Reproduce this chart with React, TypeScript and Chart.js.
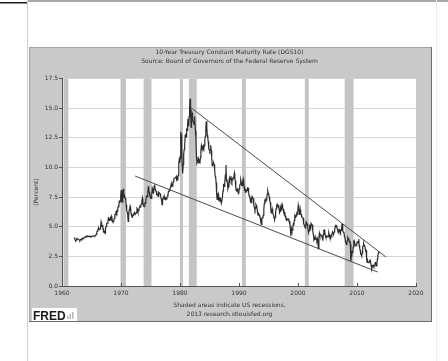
import { useEffect, useRef } from "react";
import { Chart, registerables } from "chart.js";

Chart.register(...registerables);

// ---- data (monthly values) ----
const firstYear = 1962;
const rates1960s = [
  4.08, 4.04, 3.93, 3.84, 3.87, 3.91, 4.01, 3.98, 3.98, 3.93, 3.92, 3.86,
  3.83, 3.92, 3.93, 3.97, 3.93, 3.99, 4.02, 4.0, 4.08, 4.11, 4.12, 4.13,
  4.17, 4.15, 4.22, 4.23, 4.2, 4.17, 4.19, 4.19, 4.2, 4.19, 4.15, 4.18,
  4.19, 4.21, 4.21, 4.2, 4.21, 4.21, 4.2, 4.25, 4.29, 4.35, 4.45, 4.62,
  4.61, 4.83, 4.87, 4.75, 4.78, 4.81, 5.02, 5.4, 5.18, 5.01, 5.16, 4.84,
  4.58, 4.63, 4.54, 4.45, 4.85, 5.02, 5.16, 5.28, 5.3, 5.48, 5.75, 5.7,
  5.53, 5.56, 5.74, 5.64, 5.87, 5.72, 5.5, 5.42, 5.46, 5.58, 5.7, 6.03,
  6.04, 6.19, 6.3, 6.17, 6.32, 6.57, 6.72, 6.69, 7.16, 7.1, 7.14, 7.65,
];
const rates1970s = [
  8.1, 7.24, 7.07, 7.39, 8.2, 7.84, 7.46, 7.53, 7.39, 7.33, 6.84, 6.39,
  6.24, 6.11, 5.45, 5.83, 6.39, 6.52, 6.73, 6.58, 6.14, 5.93, 5.81, 5.93,
  5.95, 6.08, 6.07, 6.19, 6.13, 6.11, 6.11, 6.21, 6.55, 6.48, 6.28, 6.36,
  6.46, 6.64, 6.71, 6.67, 6.85, 6.9, 7.13, 7.4, 7.09, 6.79, 6.73, 6.74,
  6.99, 6.96, 7.21, 7.51, 7.58, 7.54, 7.81, 8.4, 8.04, 7.9, 7.68, 7.43,
  7.5, 7.39, 7.73, 8.23, 8.06, 7.86, 8.06, 8.4, 8.55, 8.14, 8.05, 8.0,
  7.74, 7.79, 7.73, 7.56, 7.9, 7.86, 7.83, 7.77, 7.59, 7.41, 7.29, 6.87,
  7.21, 7.39, 7.46, 7.37, 7.46, 7.28, 7.33, 7.4, 7.34, 7.52, 7.58, 7.69,
  7.96, 8.03, 8.04, 8.15, 8.35, 8.46, 8.64, 8.41, 8.42, 8.64, 8.81, 9.01,
  9.1, 9.1, 9.12, 9.18, 9.25, 8.91, 8.95, 9.03, 9.33, 10.3, 10.65, 10.39,
];
const rates1980s = [
  10.8, 13.0, 12.75, 11.47, 10.18, 9.5, 10.25, 11.1, 11.51, 11.75, 12.68, 12.84,
  12.57, 13.19, 13.12, 13.68, 14.1, 13.47, 14.28, 14.94, 15.8, 15.15, 13.39, 13.72,
  14.59, 14.43, 13.86, 13.87, 13.62, 14.3, 13.95, 13.06, 12.34, 10.91, 10.4, 10.54,
  10.46, 10.72, 10.51, 10.4, 10.38, 10.85, 11.38, 11.85, 11.65, 11.54, 11.69, 11.83,
  11.67, 11.84, 12.32, 12.63, 13.41, 13.9, 13.36, 12.72, 12.52, 12.16, 11.57, 11.5,
  11.38, 11.51, 11.86, 11.43, 10.85, 10.16, 10.31, 10.33, 10.37, 10.24, 9.78, 9.26,
  9.19, 8.7, 7.78, 7.3, 7.71, 7.8, 7.3, 7.17, 7.45, 7.43, 7.25, 7.11,
  7.08, 7.25, 7.25, 8.02, 8.61, 8.4, 8.45, 8.76, 9.42, 10.2, 8.86, 8.99,
  8.67, 8.21, 8.37, 8.72, 9.09, 8.92, 9.06, 9.26, 8.98, 8.8, 8.96, 9.11,
  9.09, 9.17, 9.5, 9.18, 8.86, 8.28, 8.02, 8.11, 8.19, 8.01, 7.87, 7.84,
];
const rates1990s = [
  8.21, 8.47, 8.59, 8.95, 8.76, 8.48, 8.47, 8.75, 9.0, 8.72, 8.39, 8.08,
  8.09, 7.85, 8.11, 8.04, 8.07, 8.28, 8.27, 7.9, 7.65, 7.53, 7.42, 7.09,
  7.03, 7.34, 7.54, 7.48, 7.39, 7.26, 6.84, 6.59, 6.42, 6.59, 6.87, 6.77,
  6.6, 6.26, 5.98, 5.97, 6.04, 5.96, 5.81, 5.68, 5.36, 5.2, 5.72, 5.77,
  5.75, 5.97, 6.48, 6.97, 7.18, 7.1, 7.3, 7.24, 7.46, 7.74, 8.0, 7.81,
  7.78, 7.47, 7.2, 7.06, 6.63, 6.17, 6.28, 6.49, 6.2, 6.04, 5.93, 5.71,
  5.65, 5.81, 6.27, 6.51, 6.74, 6.91, 6.87, 6.64, 6.83, 6.53, 6.2, 6.3,
  6.58, 6.42, 6.69, 6.89, 6.71, 6.49, 6.22, 6.3, 6.21, 6.03, 5.88, 5.81,
  5.54, 5.57, 5.65, 5.64, 5.65, 5.5, 5.46, 5.34, 4.81, 4.2, 4.83, 4.65,
  4.72, 5.0, 5.23, 5.18, 5.54, 5.9, 5.79, 5.94, 5.92, 6.11, 6.03, 6.28,
];
const rates2000s = [
  6.8, 6.52, 6.26, 5.99, 6.44, 6.1, 6.05, 5.83, 5.8, 5.74, 5.72, 5.24,
  5.16, 5.1, 4.89, 5.14, 5.39, 5.28, 5.24, 4.97, 4.73, 4.57, 4.65, 5.09,
  5.04, 4.91, 5.28, 5.21, 5.16, 4.93, 4.65, 4.26, 3.87, 3.94, 4.05, 4.03,
  4.05, 3.9, 3.81, 3.96, 3.57, 3.15, 3.98, 4.45, 4.27, 4.29, 4.3, 4.27,
  4.15, 4.08, 3.83, 4.35, 4.72, 4.73, 4.5, 4.28, 4.13, 4.1, 4.19, 4.23,
  4.22, 4.17, 4.5, 4.34, 4.14, 4.0, 4.18, 4.26, 4.2, 4.46, 4.54, 4.47,
  4.42, 4.57, 4.72, 4.99, 5.11, 5.11, 5.09, 4.88, 4.72, 4.73, 4.6, 4.56,
  4.76, 4.72, 4.56, 4.69, 4.75, 5.25, 5.0, 4.67, 4.52, 4.53, 4.15, 4.1,
  3.74, 3.74, 3.51, 3.68, 3.88, 4.1, 4.01, 3.89, 3.69, 3.81, 3.53, 2.1,
  2.52, 2.87, 2.82, 2.93, 3.29, 3.85, 3.56, 3.59, 3.4, 3.39, 3.4, 3.59,
];
const rates2010s = [
  3.73, 3.69, 3.73, 3.95, 3.42, 3.2, 3.01, 2.7, 2.65, 2.54, 2.76, 3.29,
  3.39, 3.58, 3.41, 3.46, 3.17, 3.0, 3.0, 2.3, 1.98, 2.15, 2.01, 1.98,
  1.97, 1.97, 2.17, 2.05, 1.8, 1.62, 1.45, 1.68, 1.72, 1.75, 1.65, 1.72,
  1.91, 1.98, 1.96, 1.7, 1.93, 2.3, 2.58, 2.8, 2.9,
];

const recessionStarts = [1960.25, 1969.917, 1973.833, 1980.0, 1981.5, 1990.5, 2001.167, 2007.917];
const recessionEnds = [1961.083, 1970.833, 1975.167, 1980.5, 1982.833, 1991.167, 2001.833, 2009.417];

const upperTrendX = [1981.7, 2014.9];
const upperTrendY = [15.1, 2.45];
const lowerTrendX = [1972.4, 2013.5];
const lowerTrendY = [9.27, 1.18];

const xMin = 1960;
const xMax = 2020;
const xStep = 10;
const yMin = 0;
const yMax = 17.5;
const yStep = 2.5;

const titleLines = [
  "10-Year Treasury Constant Maturity Rate (DGS10)",
  "Source: Board of Governors of the Federal Reserve System",
];
const noteLines = ["Shaded areas indicate US recessions.", "2013 research.stlouisfed.org"];
const yAxisLabel = "(Percent)";
const logoText = "FRED";

const FONT = "'DejaVu Sans', sans-serif";

const allRates = [...rates1960s, ...rates1970s, ...rates1980s, ...rates1990s, ...rates2000s, ...rates2010s];
const seriesPoints = allRates.map((v, i) => ({ x: firstYear + i / 12 + 1 / 24, y: v }));
const toPts = (xs: number[], ys: number[]) => xs.map((x, i) => ({ x, y: ys[i] }));

const fredPlugin = {
  id: "fredFrame",
  beforeDraw(chart: any) {
    const { ctx, chartArea: a, width, height } = chart;
    ctx.save();
    ctx.fillStyle = "#ffffff";
    ctx.fillRect(0, 0, width, height);
    // scanned page edges
    ctx.fillStyle = "#a8a8a8";
    ctx.fillRect(27, 0, width - 27, 2);
    ctx.fillStyle = "#1e1e1e";
    ctx.fillRect(0, 2, 27, 1.5);
    ctx.fillStyle = "#d0d0d0";
    ctx.fillRect(27, 0, 1, height);
    ctx.fillStyle = "#ececec";
    ctx.fillRect(436, 0, 1, height);
    // gray frame
    ctx.fillStyle = "#c9c9c9";
    ctx.fillRect(29, 47, 403, 275);
    ctx.strokeStyle = "#a2a2a2";
    ctx.lineWidth = 1;
    ctx.strokeRect(29.5, 47.5, 402, 274);
    ctx.strokeStyle = "#6c6c6c";
    ctx.beginPath();
    ctx.moveTo(431.5, 47);
    ctx.lineTo(431.5, 322);
    ctx.moveTo(29, 321.5);
    ctx.lineTo(432, 321.5);
    ctx.stroke();
    // plot area
    ctx.fillStyle = "#ffffff";
    ctx.fillRect(a.left, a.top, a.right - a.left, a.bottom - a.top);
    ctx.restore();
  },
  beforeDatasetsDraw(chart: any) {
    const { ctx, chartArea: a, scales } = chart;
    const xs = scales.x;
    ctx.save();
    ctx.beginPath();
    ctx.rect(a.left, a.top, a.right - a.left, a.bottom - a.top);
    ctx.clip();
    ctx.fillStyle = "#c4c4c4";
    recessionStarts.forEach((s, i) => {
      const x0 = xs.getPixelForValue(s);
      const x1 = xs.getPixelForValue(recessionEnds[i]);
      ctx.fillRect(x0, a.top, x1 - x0, a.bottom - a.top);
    });
    ctx.restore();
  },
  afterDraw(chart: any) {
    const { ctx, chartArea: a, scales } = chart;
    const xs = scales.x;
    ctx.save();
    // inward tick marks on the x axis
    ctx.strokeStyle = "#555";
    ctx.lineWidth = 1;
    ctx.beginPath();
    xs.ticks.forEach((t: any) => {
      const px = Math.round(xs.getPixelForValue(t.value)) + 0.5;
      ctx.moveTo(px, a.bottom);
      ctx.lineTo(px, a.bottom - 3);
    });
    ctx.stroke();
    // y axis title
    ctx.fillStyle = "#333";
    ctx.font = `6px ${FONT}`;
    ctx.textAlign = "center";
    ctx.textBaseline = "middle";
    ctx.translate(36, 192);
    ctx.rotate(-Math.PI / 2);
    ctx.fillText(yAxisLabel, 0, 0);
    ctx.setTransform(1, 0, 0, 1, 0, 0);
    // FRED logo
    ctx.fillStyle = "#ffffff";
    ctx.fillRect(32, 308, 45, 13);
    ctx.fillStyle = "#1a1a1a";
    ctx.font = `bold 12px 'Liberation Sans', Arial, sans-serif`;
    ctx.textAlign = "left";
    ctx.textBaseline = "alphabetic";
    ctx.fillText(logoText, 33, 319.5);
    ctx.fillStyle = "#b8b8b8";
    ctx.fillRect(67, 316, 1.5, 3);
    ctx.fillRect(69.5, 314, 1.5, 5);
    ctx.fillRect(72, 312, 1.5, 7);
    ctx.restore();
  },
};

export default function App() {
  const ref = useRef<HTMLCanvasElement | null>(null);
  useEffect(() => {
    if (!ref.current) return;
    const chart = new Chart(ref.current, {
      type: "line",
      data: {
        datasets: [
          {
            data: seriesPoints,
            borderColor: "#2b2b2b",
            borderWidth: 1.2,
            pointRadius: 0,
            tension: 0,
          },
          {
            data: toPts(upperTrendX, upperTrendY),
            borderColor: "#4a4a4a",
            borderWidth: 1,
            pointRadius: 0,
          },
          {
            data: toPts(lowerTrendX, lowerTrendY),
            borderColor: "#4a4a4a",
            borderWidth: 1,
            pointRadius: 0,
          },
        ],
      },
      options: {
        responsive: false,
        animation: false,
        devicePixelRatio: 1,
        events: [],
        layout: { padding: { left: 43, right: 32, top: 47, bottom: 39 } },
        plugins: {
          legend: { display: false },
          tooltip: { enabled: false },
          title: {
            display: true,
            text: titleLines,
            color: "#333",
            font: { family: FONT, size: 6, lineHeight: 1.583, weight: "normal" },
            padding: { top: 0.5, bottom: 12 },
          },
          subtitle: {
            display: true,
            position: "bottom",
            text: noteLines,
            color: "#333",
            font: { family: FONT, size: 6, lineHeight: 1.5, weight: "normal" },
            padding: { top: 0, bottom: 3 },
          },
        },
        scales: {
          x: {
            type: "linear",
            min: xMin,
            max: xMax,
            afterFit: (s: any) => {
              s.height = 15;
            },
            grid: { display: false, drawTicks: false },
            border: { display: true, color: "#555", width: 1 },
            ticks: {
              stepSize: xStep,
              padding: 4,
              color: "#333",
              maxRotation: 0,
              autoSkip: false,
              font: { family: FONT, size: 6 },
              callback: (v: any) => String(v),
            },
          },
          y: {
            min: yMin,
            max: yMax,
            afterFit: (s: any) => {
              s.width = 19;
            },
            grid: { color: "#d4d4d4", tickColor: "#555", tickLength: 3 },
            border: { display: true, color: "#555", width: 1 },
            ticks: {
              stepSize: yStep,
              padding: 1,
              color: "#333",
              font: { family: FONT, size: 6 },
              callback: (v: any) => Number(v).toFixed(1),
            },
          },
        },
      },
      plugins: [fredPlugin],
    } as any);
    return () => chart.destroy();
  }, []);
  return (
    <canvas
      ref={ref}
      width={448}
      height={361}
      style={{ position: "absolute", left: 0, top: 0, width: 448, height: 361 }}
    />
  );
}
